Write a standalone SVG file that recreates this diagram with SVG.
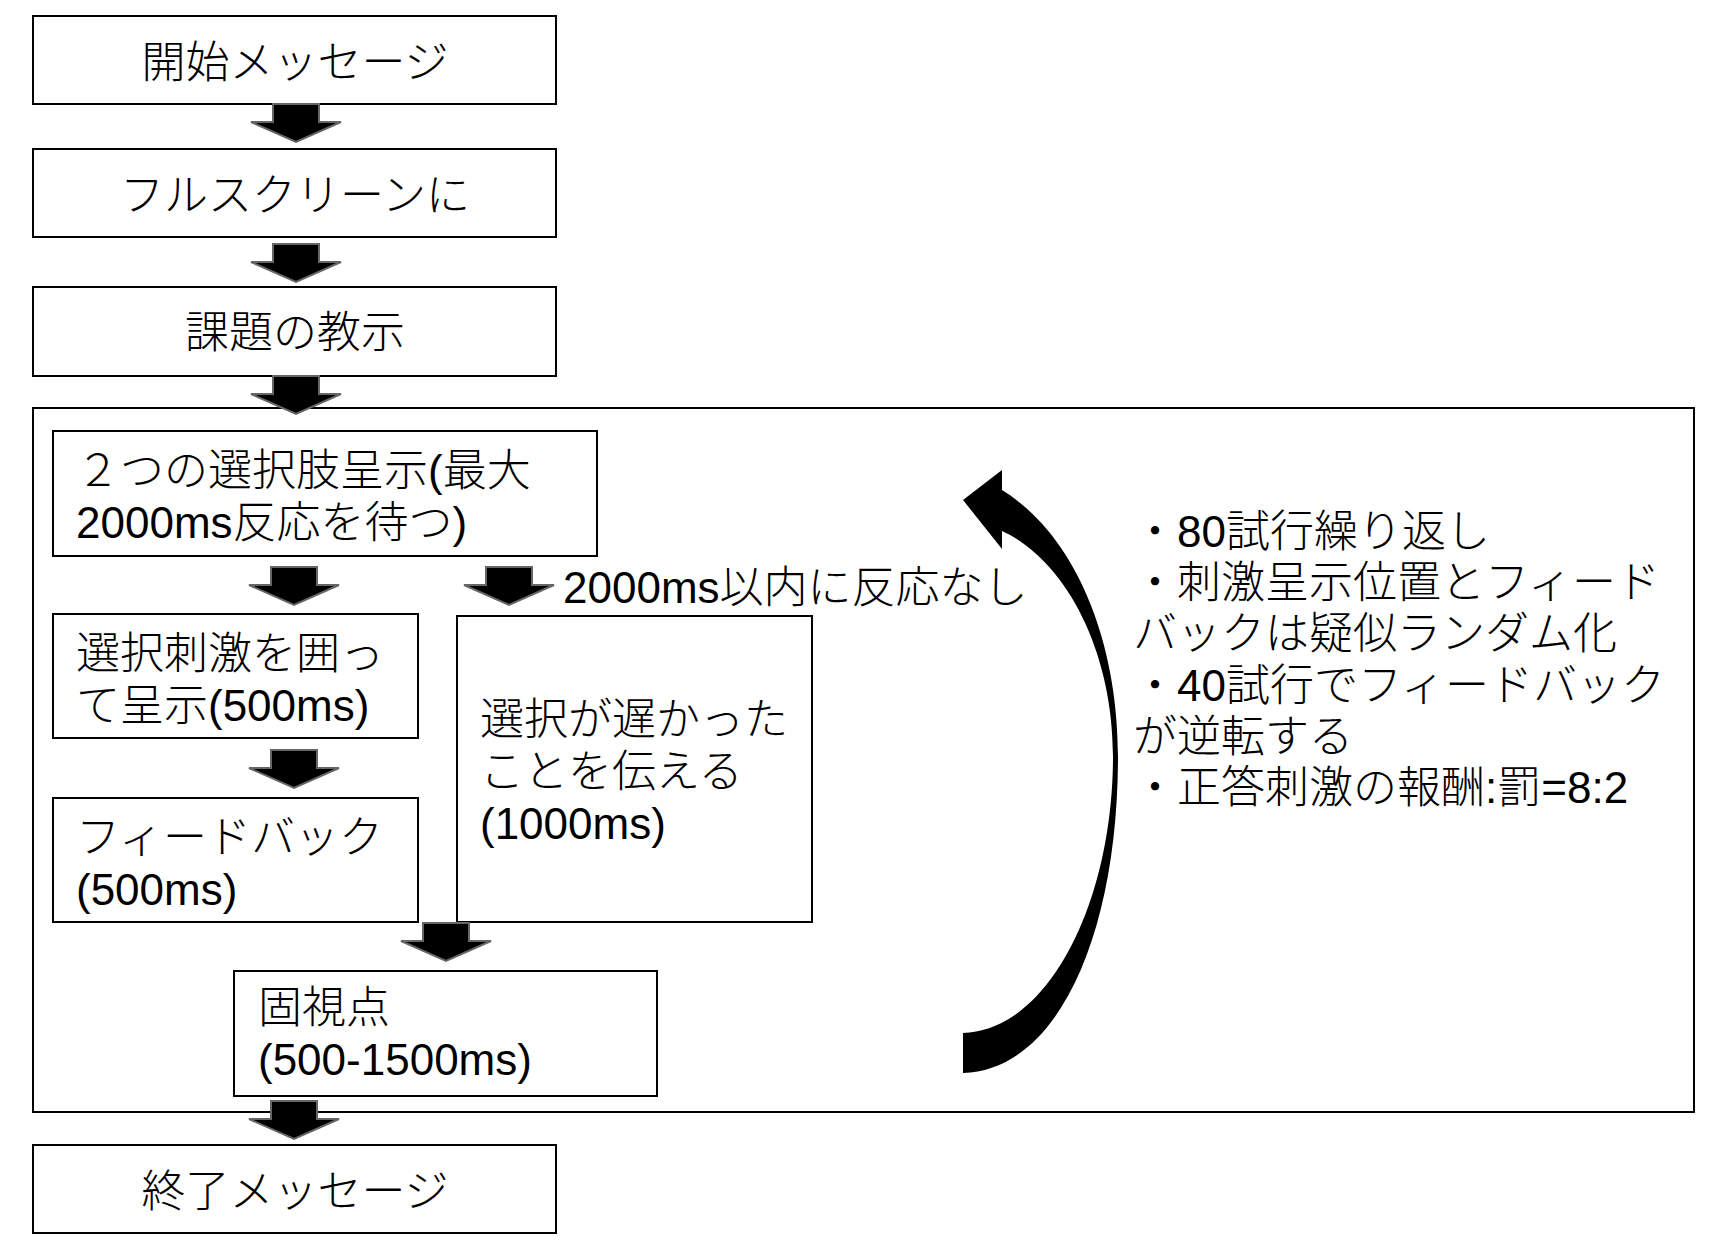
<svg xmlns="http://www.w3.org/2000/svg" xmlns:xlink="http://www.w3.org/1999/xlink" width="1724" height="1252" viewBox="0 0 1724 1252">
<style>
  .box{fill:#fff;stroke:#000;stroke-width:2}
  .t{font-family:"Liberation Sans","Noto Sans CJK JP",sans-serif;font-size:44px;font-weight:300;fill:#000}
  .l{font-weight:400}
  .c{text-anchor:middle}
  .ba{fill:#000;stroke:#666;stroke-width:2;stroke-linejoin:miter}
</style>
<defs>
  <path id="ba" d="M-23,0 H23 V18 H45 L0,38 L-45,18 H-23 Z"/>
</defs>
<rect width="1724" height="1252" fill="#fff"/>
<g id="outer"><rect class="box" x="33" y="408" width="1661" height="704"/></g>
<g id="n1"><rect class="box" x="33" y="16" width="523" height="88"/><text class="t c" x="295" y="78">開始メッセージ</text></g>
<g id="n2"><rect class="box" x="33" y="149" width="523" height="88"/><text class="t c" x="295" y="211">フルスクリーンに</text></g>
<g id="n3"><rect class="box" x="33" y="287" width="523" height="89"/><text class="t c" x="295" y="348">課題の教示</text></g>
<g id="nA"><rect class="box" x="53" y="431" width="544" height="125"/><text class="t" x="76" y="486">２つの選択肢呈示<tspan class="l">(</tspan>最大</text><text class="t" x="76" y="538"><tspan class="l">2000ms</tspan>反応を待つ<tspan class="l">)</tspan></text></g>
<g id="nB"><rect class="box" x="53" y="614" width="365" height="124"/><text class="t" x="76" y="669">選択刺激を囲っ</text><text class="t" x="76" y="721">て呈示<tspan class="l">(500ms)</tspan></text></g>
<g id="nC"><rect class="box" x="53" y="798" width="365" height="124"/><text class="t" x="76" y="853">フィードバック</text><text class="t l" x="76" y="905">(500ms)</text></g>
<g id="nD"><rect class="box" x="457" y="616" width="355" height="306"/><text class="t" x="480" y="735">選択が遅かった</text><text class="t" x="480" y="787">ことを伝える</text><text class="t l" x="480" y="839">(1000ms)</text></g>
<g id="nE"><rect class="box" x="234" y="971" width="423" height="125"/><text class="t" x="258" y="1023">固視点</text><text class="t l" x="258" y="1075">(500-1500ms)</text></g>
<g id="n4"><rect class="box" x="33" y="1145" width="523" height="88"/><text class="t c" x="295" y="1207">終了メッセージ</text></g>
<g id="notes">
  <text class="t" x="1133" y="547">・<tspan class="l">80</tspan>試行繰り返し</text>
  <text class="t" x="1133" y="598">・刺激呈示位置とフィード</text>
  <text class="t" x="1133" y="649">バックは疑似ランダム化</text>
  <text class="t" x="1133" y="701">・<tspan class="l">40</tspan>試行でフィードバック</text>
  <text class="t" x="1133" y="752">が逆転する</text>
  <text class="t" x="1133" y="803">・正答刺激の報酬<tspan class="l">:</tspan>罰<tspan class="l">=8:2</tspan></text>
</g>
<g id="connectors">
  <use xlink:href="#ba" class="ba" transform="translate(296,104)"/>
  <use xlink:href="#ba" class="ba" transform="translate(296,244)"/>
  <use xlink:href="#ba" class="ba" transform="translate(296,376)"/>
  <use xlink:href="#ba" class="ba" transform="translate(294,567)"/>
  <use xlink:href="#ba" class="ba" transform="translate(509,567)"/>
  <use xlink:href="#ba" class="ba" transform="translate(294,750)"/>
  <use xlink:href="#ba" class="ba" transform="translate(446,923)"/>
  <use xlink:href="#ba" class="ba" transform="translate(294,1101)"/>
  <text class="t" x="563" y="603"><tspan class="l">2000ms</tspan>以内に反応なし</text>
  <path fill="#000" d="M963,1073 C1060,1070 1118,930 1118,756 C1118,640 1075,535 1002,490 L1002,470 L963,500 L1002,549 L1002,531 C1065,560 1113,650 1113,756 C1113,900 1050,1030 963,1033 Z"/>
</g>
</svg>
